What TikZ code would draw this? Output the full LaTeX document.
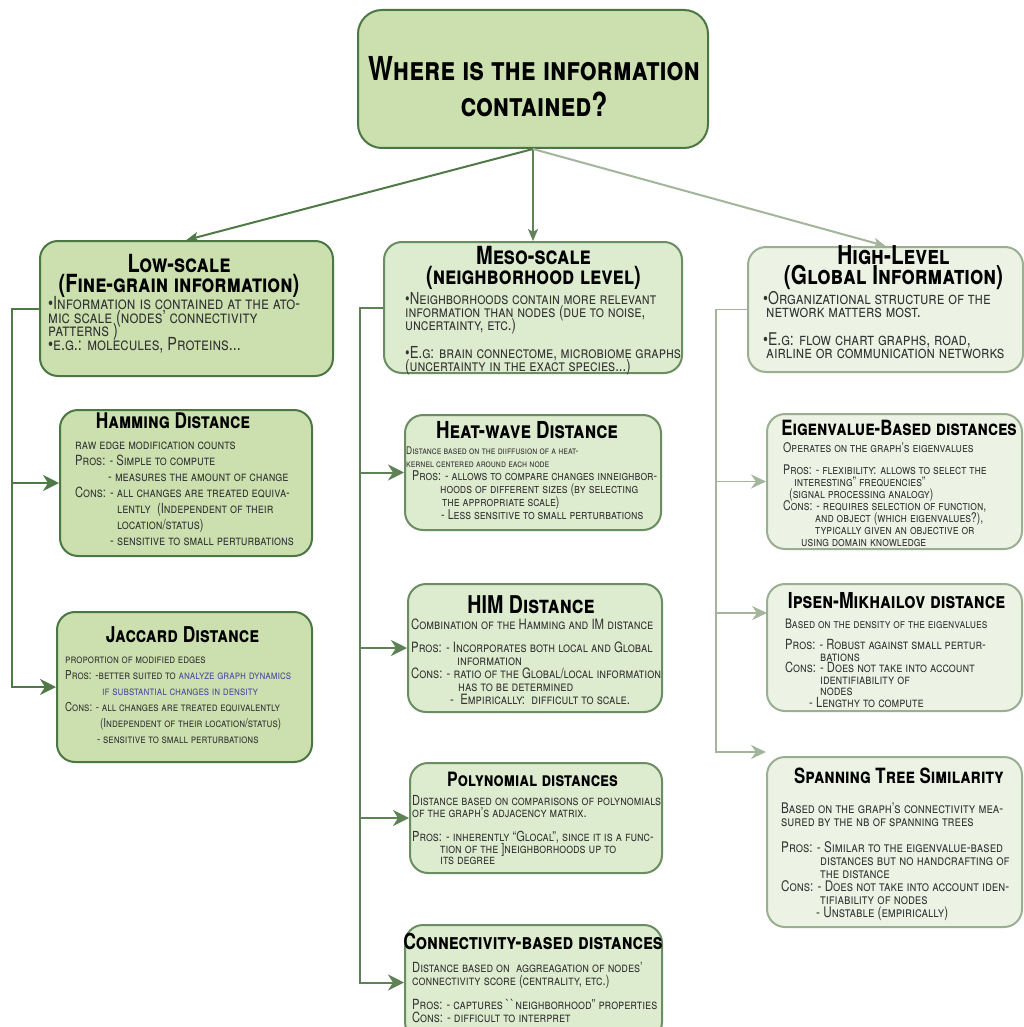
\documentclass[tikz,border=0pt]{standalone}
\usepackage{fontspec}
\setmainfont{TeX Gyre Heros}[FakeStretch=0.8]
\usetikzlibrary{arrows.meta}
\definecolor{fillA}{HTML}{CBE0AE}
\definecolor{lineA}{HTML}{4B7743}
\definecolor{fillB}{HTML}{DDEBCE}
\definecolor{lineB}{HTML}{6B8D62}
\definecolor{fillC}{HTML}{ECF3E4}
\definecolor{lineC}{HTML}{9AAE91}
\definecolor{arrA}{HTML}{4F7A47}
\definecolor{arrB}{HTML}{5E8156}
\definecolor{arrC}{HTML}{A3B59A}
\definecolor{txt}{HTML}{333333}
\definecolor{jblue}{HTML}{4B4B9E}
\newcommand\fs[2]{\fontsize{#1}{#2}\selectfont\lineskiplimit=-50pt\relax}
\newcommand\smline[1]{{\fontsize{10.5}{13}\selectfont#1}}
\tikzset{
  boxA/.style={draw=lineA, fill=fillA, line width=2pt, rounded corners=18pt, inner sep=0pt},
  boxB/.style={draw=lineB, fill=fillB, line width=2pt, rounded corners=18pt, inner sep=0pt},
  boxC/.style={draw=lineC, fill=fillC, line width=2pt, rounded corners=18pt, inner sep=0pt},
  head/.style={inner sep=0pt, align=center, text=black},
  body/.style={inner sep=0pt, align=left, anchor=north west, text=txt},
  conA/.style={draw=arrA, line width=2pt, -{Stealth[length=16pt,width=16pt,inset=5pt]}},
  conB/.style={draw=arrB, line width=2pt, -{Stealth[length=16pt,width=16pt,inset=5pt]}},
  conC/.style={draw=arrC, line width=1.6pt, -{Stealth[length=15pt,width=14pt,inset=5pt]}},
  topA/.style={draw=#1, line width=2pt, -{Stealth[length=12pt,width=10pt,inset=3pt]}},
}
\begin{document}
\begin{tikzpicture}[x=1pt,y=-1pt]
\useasboundingbox (0,0) rectangle (1024,1027);
\clip (0,0) rectangle (1024,1027);
\fill[white] (0,0) rectangle (1024,1027);

% ---------- boxes ----------
\node[boxA, rounded corners=24pt, minimum width=350pt, minimum height=138pt] (title) at (533,79) {};
\node[boxA, minimum width=293pt, minimum height=135pt] (low) at (186.5,308.5) {};
\node[boxB, minimum width=298pt, minimum height=131pt] (meso) at (533,307.5) {};
\node[boxC, minimum width=275pt, minimum height=125pt] (high) at (885.5,309.5) {};

\node[boxA, minimum width=252pt, minimum height=146pt] (ham) at (186,483) {};
\node[boxA, minimum width=255pt, minimum height=150pt] (jac) at (184.5,687) {};

\node[boxB, minimum width=256pt, minimum height=115pt] (heat) at (533,472.5) {};
\node[boxB, minimum width=254pt, minimum height=128pt] (him) at (535,648) {};
\node[boxB, minimum width=252pt, minimum height=110pt] (poly) at (536,818) {};
\node[boxB, minimum width=257pt, minimum height=115pt] (conn) at (533.5,982.5) {};

\node[boxC, minimum width=255pt, minimum height=135pt] (eig) at (894.5,481.5) {};
\node[boxC, minimum width=255pt, minimum height=127pt] (ips) at (894.5,647.5) {};
\node[boxC, minimum width=255pt, minimum height=170pt] (spt) at (894.5,842) {};

% ---------- connectors ----------
\draw[topA=arrA] (title.south) -- (low.north);
\draw[topA=arrB] (title.south) -- (meso.north);
\draw[topA=arrC] (title.south) -- (high.north);

\coordinate (lx) at (12,0);
\coordinate (mx) at (360,0);
\coordinate (rx) at (716,0);
\coordinate (ipt) at (767,613);
\coordinate (spp) at (766,752);

\draw[conA] (low.west) -- (lx |- low.west) -- (lx |- jac.west) -- (jac.west);
\draw[conA] (lx |- ham.west) -- (ham.west);

\draw[conB] (meso.west) -- (mx |- meso.west) -- (mx |- conn.west) -- (conn.west);
\draw[conB] (mx |- heat.west) -- (heat.west);
\draw[conB] (mx |- him.west) -- (him.west);
\draw[conB] (mx |- poly.west) -- (poly.west);

\draw[conC] (high.west) -- (rx |- high.west) -- (rx |- spp) -- (spp);
\draw[conC] (rx |- eig.west) -- (eig.west);
\draw[conC] (rx |- ipt) -- (ipt);

% ---------- headings ----------
\node[head, font={\fs{33}{36}\bfseries\scshape}] (titlet) at (534,87) {Where is the information\\contained?};
\node[head, font={\fs{25}{19.5}\bfseries\scshape}] (lowh) at (179,276) {Low-scale\\(Fine-grain information)};
\node[head, font={\fs{25}{20}\bfseries\scshape}] (mesoh) at (533.5,268) {Meso-scale\\(neighborhood level)};
\node[head, font={\fs{26}{20}\bfseries\scshape}] (highh) at (893.5,268) {High-Level\\(Global Information)};

\node[head, font={\fs{21.6}{20}\bfseries\scshape}] (hamh) at (173,421) {Hamming Distance};
\node[head, font={\fs{21.8}{20}\bfseries\scshape}] (jach) at (182.5,635) {Jaccard Distance};
\node[head, font={\fs{23.4}{20}\bfseries\scshape}] (heath) at (527,430) {Heat-wave Distance};
\node[head, font={\fs{24.5}{20}\bfseries\scshape}] (himh) at (531,605) {HIM Distance};
\node[head, font={\fs{19.8}{20}\bfseries\scshape}] (polyh) at (532.5,779) {Polynomial distances};
\node[head, font={\fs{22}{20}\bfseries\scshape}] (connh) at (533,941) {Connectivity-based distances};
\node[head, font={\fs{21}{20}\bfseries\scshape}] (eigh) at (899,428) {Eigenvalue-Based distances};
\node[head, font={\fs{22}{20}\bfseries\scshape}] (ipsh) at (896.5,601) {Ipsen-Mikhailov distance};
\node[head, font={\fs{21}{20}\bfseries\scshape}] (spth) at (899,776) {Spanning Tree Similarity};

% ---------- bodies ----------
\node[body, font={\fs{18}{13.5}\scshape}] (lowb) at (48,296.5) {%
\textbullet Information is contained at the ato-\\
mic scale (nodes' connectivity\\
patterns )\\
\textbullet e.g.: molecules, Proteins...};

\node[body, font={\fs{16.5}{13}\scshape}] (mesob) at (405,292.5) {%
\textbullet Neighborhoods contain more relevant\\
information than nodes (due to noise,\\
uncertainty, etc.)\\[15pt]
\textbullet E.g: brain connectome, microbiome graphs\\
(uncertainty in the exact species...)};

\node[body, font={\fs{17.5}{12.5}\scshape}] (highb) at (763,291.5) {%
\textbullet Organizational structure of the\\
\hspace*{3pt}network matters most.\\[16pt]
\textbullet E.g: flow chart graphs, road,\\
\hspace*{3pt}airline or communication networks};

\node[body, font={\fs{14}{16}\scshape}] (hamb) at (75,441.5) {%
raw edge modification counts\\
Pros: - Simple to compute\\
\hspace*{33pt}- measures the amount of change\\
Cons: - all changes are treated equiva-\\
\hspace*{42pt}lently\ \ (Independent of their\\
\hspace*{42pt}location/status)\\
\hspace*{35pt}- sensitive to small perturbations};

\node[body, font={\fs{12.3}{16}\scshape}] (jacb) at (65,657) {%
proportion of modified edges\\
Pros: -better suited to \textcolor{jblue}{analyze graph dynamics}\\
\hspace*{37pt}\textcolor{jblue}{if substantial changes in density}\\
Cons: - all changes are treated equivalently\\
\hspace*{35pt}(Independent of their location/status)\\
\hspace*{32pt}- sensitive to small perturbations};

\node[body, font={\fs{13.4}{13}\scshape}] (heatb) at (406,446.5) {%
\smline{Distance based on the diiffusion of a heat-}\\
\smline{kernel centered around each node}\\
\hspace*{6pt}Pros: - allows to compare changes inneighbor-\\
\hspace*{34pt}hoods of different sizes (by selecting\\
\hspace*{36pt}the appropriate scale)\\
\hspace*{35pt}- Less sensitive to small perturbations};

\node[body, font={\fs{14.2}{13}\scshape}] (himb) at (411,618.5) {%
Combination of the Hamming and IM distance\\[10pt]
Pros: - Incorporates both local and Global\\
\hspace*{46pt}information\\
Cons: - ratio of the Global/local information\\
\hspace*{47pt}has to be determined\\
\hspace*{39pt}-\ \ Empirically:\ \ difficult to scale.};

\node[body, font={\fs{13.8}{11.5}\scshape}] (polyb) at (412,795.5) {%
Distance based on comparisons of polynomials\\
of the graph's adjacency matrix.\\[13pt]
Pros: - inherently “Glocal”, since it is a func-\\
\hspace*{28pt}tion of the ]neighborhoods up to\\
\hspace*{28pt}its degree};

\node[body, font={\fs{14}{12.5}\scshape}] (connb) at (412,962.3) {%
Distance based on\ \ aggreagation of nodes'\\
connectivity score (centrality, etc.)\\[12pt]
Pros: - captures \textasciigrave\textasciigrave neighborhood" properties\\
Cons: - difficult to interpret};

\node[body, font={\fs{13.3}{12}\scshape}] (eigb) at (783,442.5) {%
Operates on the graph's eigenvalues\\[10pt]
Pros: - flexibility: allows to select the\\
\hspace*{11pt}interesting" frequencies"\\
\hspace*{6pt}(signal processing analogy)\\
Cons: - requires selection of function,\\
\hspace*{32pt}and object (which eigenvalues?),\\
\hspace*{32pt}typically given an objective or\\
\hspace*{18pt}using domain knowledge};

\node[body, font={\fs{14}{11.5}\scshape}] (ipsb) at (785,618.5) {%
{\fontsize{13}{11.5}\selectfont Based on the density of the eigenvalues}\\[10pt]
Pros: - Robust against small pertur-\\
\hspace*{35pt}bations\\
Cons: - Does not take into account\\
\hspace*{35pt}identifiability of\\
\hspace*{35pt}nodes\\
\hspace*{24pt}- Lengthy to compute};

\node[body, font={\fs{14.6}{13}\scshape}] (sptb) at (781,803) {%
Based on the graph's connectivity mea-\\
sured by the nb of spanning trees\\[13pt]
Pros: - Similar to the eigenvalue-based\\
\hspace*{39pt}distances but no handcrafting of\\
\hspace*{39pt}the distance\\
Cons: - Does not take into account iden-\\
\hspace*{39pt}tifiability of nodes\\
\hspace*{35pt}- Unstable (empirically)};
\end{tikzpicture}
\end{document}
